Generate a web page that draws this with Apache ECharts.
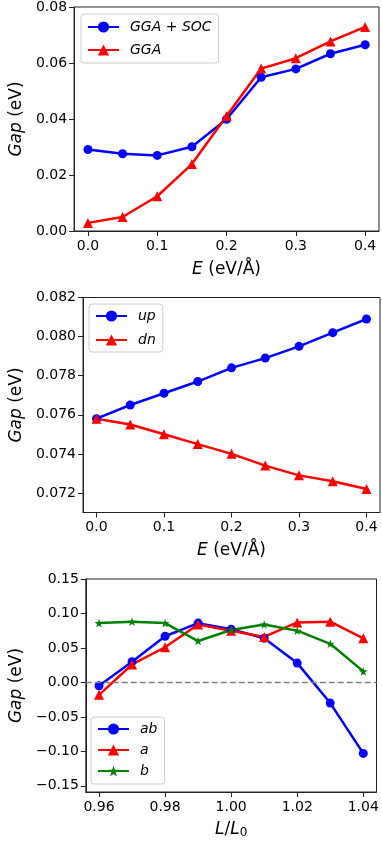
<!DOCTYPE html>
<html>
<head>
<meta charset="utf-8">
<title>Gap</title>
<script src="https://cdn.jsdelivr.net/npm/echarts@6/dist/echarts.min.js"></script>
<style>
  html, body { margin: 0; padding: 0; background: #fff; }
  #chart { width: 382px; height: 843px; }
</style>
</head>
<body>
<div id="chart"></div>
<script>
// electric field (eV/Å)
const fieldE = [0.0, 0.05, 0.1, 0.15, 0.2, 0.25, 0.3, 0.35, 0.4]
const gapGgaSoc = [0.0291, 0.0276, 0.0270, 0.0301, 0.0399, 0.0549, 0.0579, 0.0633, 0.0665]
const gapGga = [0.0029, 0.0050, 0.0124, 0.0239, 0.0411, 0.0580, 0.0617, 0.0677, 0.0729]

const gapUp = [0.0758, 0.0765, 0.0771, 0.0777, 0.0784, 0.0789, 0.0795, 0.0802, 0.0809]
const gapDn = [0.0758, 0.0755, 0.0750, 0.0745, 0.0740, 0.0734, 0.0729, 0.0726, 0.0722]

// strain L/L0
const strain = [0.96, 0.97, 0.98, 0.99, 1.00, 1.01, 1.02, 1.03, 1.04]
const gapAB = [-0.005, 0.030, 0.067, 0.086, 0.077, 0.064, 0.028, -0.030, -0.103]
const gapA = [-0.018, 0.026, 0.051, 0.084, 0.075, 0.066, 0.087, 0.088, 0.064]
const gapB = [0.086, 0.088, 0.086, 0.060, 0.076, 0.084, 0.075, 0.056, 0.016]

// tick values
const fieldTicks = [0, 0.1, 0.2, 0.3, 0.4]
const topYTicks = [0, 0.02, 0.04, 0.06, 0.08]
const midYTicks = [0.072, 0.074, 0.076, 0.078, 0.080, 0.082]
const strainTicks = [0.96, 0.98, 1.00, 1.02, 1.04]
const botYTicks = [-0.15, -0.10, -0.05, 0, 0.05, 0.10, 0.15]

const font = 'DejaVu Sans'
const ink = '#222'
const STAR = 'path://M100,0L122.45,69.1L195.1,69.1L136.3,111.8L158.8,180.9L100,138.2L41.2,180.9L63.7,111.8L4.9,69.1L77.55,69.1Z'

const pairs = (xs, ys) => xs.map((x, i) => [x, ys[i]])
const fmt = (d) => (v) => {
  const s = Math.abs(v).toFixed(d)
  return (v < -1e-9 ? '\u2212' : '') + s
}

function xAxis(gridIndex, min, max, ticks, digits, name, nameGap, rich) {
  return {
    type: 'value', gridIndex, min, max,
    name, nameLocation: 'middle', nameGap,
    nameTextStyle: { fontFamily: font, fontSize: 17, color: '#000', rich },
    axisLine: { show: true, onZero: false, lineStyle: { color: ink, width: 1 } },
    axisTick: { show: true, length: 5, customValues: ticks, lineStyle: { color: ink } },
    axisLabel: { customValues: ticks, formatter: fmt(digits), fontFamily: font, fontSize: 14, color: '#000', margin: 8 },
    splitLine: { show: false }
  }
}

function yAxis(gridIndex, min, max, ticks, digits, nameGap) {
  return {
    type: 'value', gridIndex, min, max,
    name: '{i|Gap} (eV)', nameLocation: 'middle', nameGap,
    nameTextStyle: {
      fontFamily: font, fontSize: 17, color: '#000',
      rich: { i: { fontFamily: font, fontSize: 17, fontStyle: 'italic', color: '#000' } }
    },
    axisLine: { show: true, onZero: false, lineStyle: { color: ink, width: 1 } },
    axisTick: { show: true, length: 5, customValues: ticks, lineStyle: { color: ink } },
    axisLabel: { customValues: ticks, formatter: fmt(digits), fontFamily: font, fontSize: 14, color: '#000', margin: 7 },
    splitLine: { show: false }
  }
}

function legend(names, left, top, padding, itemGap) {
  return {
    data: names, orient: 'vertical', left, top, padding, itemGap,
    itemWidth: 31, itemHeight: 14,
    backgroundColor: 'rgba(255,255,255,0.8)',
    borderColor: '#ccc', borderWidth: 1, borderRadius: 3,
    textStyle: { fontFamily: font, fontSize: 14, fontStyle: 'italic', color: '#000', padding: [0, 0, 0, 6] }
  }
}

function line(name, xIdx, data, color, symbol, symbolSize) {
  return {
    name, type: 'line', xAxisIndex: xIdx, yAxisIndex: xIdx, data,
    symbol, symbolSize, symbolKeepAspect: true,
    lineStyle: { color, width: 2.5 },
    itemStyle: { color },
    emphasis: { disabled: true }
  }
}

const italic = { fontFamily: font, fontSize: 17, fontStyle: 'italic', color: '#000' }

const chart = echarts.init(document.getElementById('chart'))

const option = {
  animation: false,
  grid: [
    { left: 71, top: 7, width: 308, height: 224, show: true, borderColor: ink, borderWidth: 1 },
    { left: 81, top: 297.5, width: 299, height: 215, show: true, borderColor: ink, borderWidth: 1 },
    { left: 82, top: 579, width: 294.5, height: 213, show: true, borderColor: ink, borderWidth: 1 }
  ],
  xAxis: [
    xAxis(0, -0.02, 0.42, fieldTicks, 1, '{i|E} (eV/Å)', 30, { i: italic }),
    xAxis(1, -0.02, 0.42, fieldTicks, 1, '{i|E} (eV/Å)', 30, { i: italic }),
    xAxis(2, 0.956, 1.044, strainTicks, 2, '{i|L}/{i|L}{sub|0}', 28,
      { i: italic, sub: { fontFamily: font, fontSize: 12, color: '#000', padding: [7, 0, 0, 0] } })
  ],
  yAxis: [
    yAxis(0, 0, 0.08, topYTicks, 2, 49),
    yAxis(1, 0.071, 0.082, midYTicks, 3, 58),
    yAxis(2, -0.159, 0.15, botYTicks, 2, 58)
  ],
  legend: [
    legend(['GGA + SOC', 'GGA'], 81, 14, [6, 7, 6, 6], 9),
    legend(['up', 'dn'], 89, 304, [5, 7, 5, 6], 10),
    legend(['ab', 'a', 'b'], 91, 717, [5, 7, 6, 6], 7)
  ],
  series: [
    line('GGA + SOC', 0, pairs(fieldE, gapGgaSoc), '#0000ff', 'circle', 9),
    line('GGA', 0, pairs(fieldE, gapGga), '#ff0000', 'triangle', 10),
    line('up', 1, pairs(fieldE, gapUp), '#0000ff', 'circle', 9),
    line('dn', 1, pairs(fieldE, gapDn), '#ff0000', 'triangle', 10),
    Object.assign(line('ab', 2, pairs(strain, gapAB), '#0000ff', 'circle', 9), {
      markLine: {
        silent: true, symbol: ['none', 'none'], label: { show: false },
        lineStyle: { color: '#808080', width: 1.3, type: [6, 3] },
        data: [{ yAxis: 0 }]
      }
    }),
    line('a', 2, pairs(strain, gapA), '#ff0000', 'triangle', 10),
    line('b', 2, pairs(strain, gapB), '#008000', STAR, 9)
  ]
}

chart.setOption(option)
window.addEventListener('resize', () => chart.resize())
</script>
</body>
</html>
